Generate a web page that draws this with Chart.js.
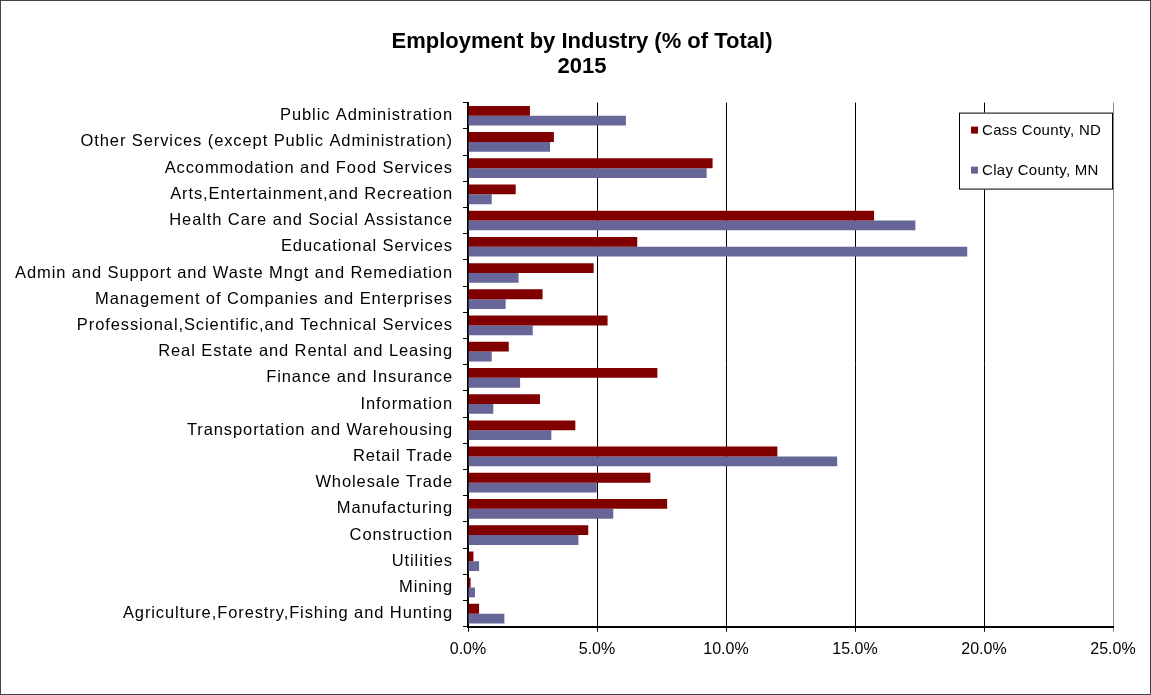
<!DOCTYPE html>
<html>
<head>
<meta charset="utf-8">
<script src="https://cdn.jsdelivr.net/npm/chart.js@4"></script>
<style>
  html, body { margin: 0; padding: 0; background: #fff; }
  #wrap { position: relative; width: 1151px; height: 695px; }
  #frame { position: absolute; left: 0; top: 0; width: 1151px; height: 695px; box-sizing: border-box; border: 1px solid #444; pointer-events: none; }
</style>
</head>
<body>
<div id="wrap">
  <canvas id="industry-chart" width="1151" height="695"></canvas>
  <div id="frame"></div>
</div>
<script>
// categories, top to bottom as shown
const categories = [
    'Public Administration',
    'Other Services (except Public Administration)',
    'Accommodation and Food Services',
    'Arts,Entertainment,and Recreation',
    'Health Care and Social Assistance',
    'Educational Services',
    'Admin and Support and Waste Mngt and Remediation',
    'Management of Companies and Enterprises',
    'Professional,Scientific,and Technical Services',
    'Real Estate and Rental and Leasing',
    'Finance and Insurance',
    'Information',
    'Transportation and Warehousing',
    'Retail Trade',
    'Wholesale Trade',
    'Manufacturing',
    'Construction',
    'Utilities',
    'Mining',
    'Agriculture,Forestry,Fishing and Hunting'
]
const cassCounty = [2.40, 3.33, 9.48, 1.85, 15.74, 6.56, 4.87, 2.89, 5.41, 1.58, 7.34, 2.79, 4.16, 11.99, 7.07, 7.72, 4.66, 0.21, 0.10, 0.43]
const clayCounty = [6.12, 3.18, 9.25, 0.92, 17.34, 19.35, 1.96, 1.46, 2.51, 0.92, 2.02, 0.98, 3.23, 14.31, 4.99, 5.63, 4.28, 0.43, 0.27, 1.41]
const seriesNames = ['Cass County, ND', 'Clay County, MN']
const titleLines = ['Employment by Industry (% of Total)', '2015']
const xMax = 25
const xStep = 5

const cassColor = '#800000'
const clayColor = '#666699'
const fontFamily = '"Liberation Sans", Arial, Helvetica, sans-serif'

// legend box sitting inside the plot, top right
const boxLegend = {
    id: 'boxLegend',
    afterDraw(chart) {
        const {ctx, chartArea} = chart
        const w = 154, h = 77
        const x = chartArea.right - w
        const y = chartArea.top + 10
        ctx.save()
        ctx.fillStyle = '#fff'
        ctx.fillRect(x, y, w, h)
        ctx.strokeStyle = '#000'
        ctx.lineWidth = 1
        ctx.strokeRect(x + 0.5, y + 0.5, w - 1, h - 1)
        ctx.font = '15px ' + fontFamily
        ctx.letterSpacing = '0.3px'
        ctx.textBaseline = 'middle'
        chart.data.datasets.forEach((ds, i) => {
            const cy = y + 18 + i * 40
            ctx.fillStyle = ds.backgroundColor
            ctx.fillRect(x + 12, cy - 4, 7, 7)
            ctx.fillStyle = '#000'
            ctx.fillText(ds.label, x + 23, cy)
        })
        ctx.restore()
    }
}

new Chart(document.getElementById('industry-chart'), {
    type: 'bar',
    data: {
        labels: categories,
        datasets: [{
            label: seriesNames[0],
            data: cassCounty,
            backgroundColor: cassColor,
            categoryPercentage: 0.75,
            barPercentage: 1
        }, {
            label: seriesNames[1],
            data: clayCounty,
            backgroundColor: clayColor,
            categoryPercentage: 0.75,
            barPercentage: 1
        }]
    },
    options: {
        indexAxis: 'y',
        responsive: false,
        animation: false,
        layout: {
            // left padding pushes the title centre over to where the original has it
            padding: {left: 51, right: 38, top: 29, bottom: 28}
        },
        plugins: {
            legend: {display: false},
            tooltip: {enabled: false},
            title: {
                display: true,
                text: titleLines,
                color: '#000',
                font: {family: fontFamily, size: 22, weight: 'bold', lineHeight: 1.15},
                padding: {top: 0, bottom: 23}
            }
        },
        scales: {
            x: {
                min: 0,
                max: xMax,
                ticks: {
                    stepSize: xStep,
                    color: '#000',
                    padding: 8,
                    font: {family: fontFamily, size: 16},
                    callback: v => v.toFixed(1) + '%'
                },
                grid: {
                    color: c => c.tick && c.tick.value === xMax ? '#888' : '#000',
                    lineWidth: 1,
                    tickLength: 5
                },
                border: {color: '#000', width: 2}
            },
            y: {
                ticks: {
                    color: '#000',
                    padding: 10,
                    autoSkip: false,
                    font: {family: fontFamily, size: 16.5}
                },
                grid: {drawOnChartArea: false, color: '#000', tickLength: 5},
                border: {color: '#000', width: 2},
                afterFit(scale) {
                    scale.width = 417
                    if (!scale._spaced) {
                        // long names run past the padding, so don't clip them
                        scale._computeLabelArea = () => undefined
                        // the category names in the original are spaced out a bit
                        const draw = scale.drawLabels
                        scale.drawLabels = function(area) {
                            this.ctx.save()
                            this.ctx.letterSpacing = '0.9px'
                            draw.call(this, area)
                            this.ctx.restore()
                        }
                        scale._spaced = true
                    }
                }
            }
        }
    },
    plugins: [boxLegend]
});
</script>
</body>
</html>
